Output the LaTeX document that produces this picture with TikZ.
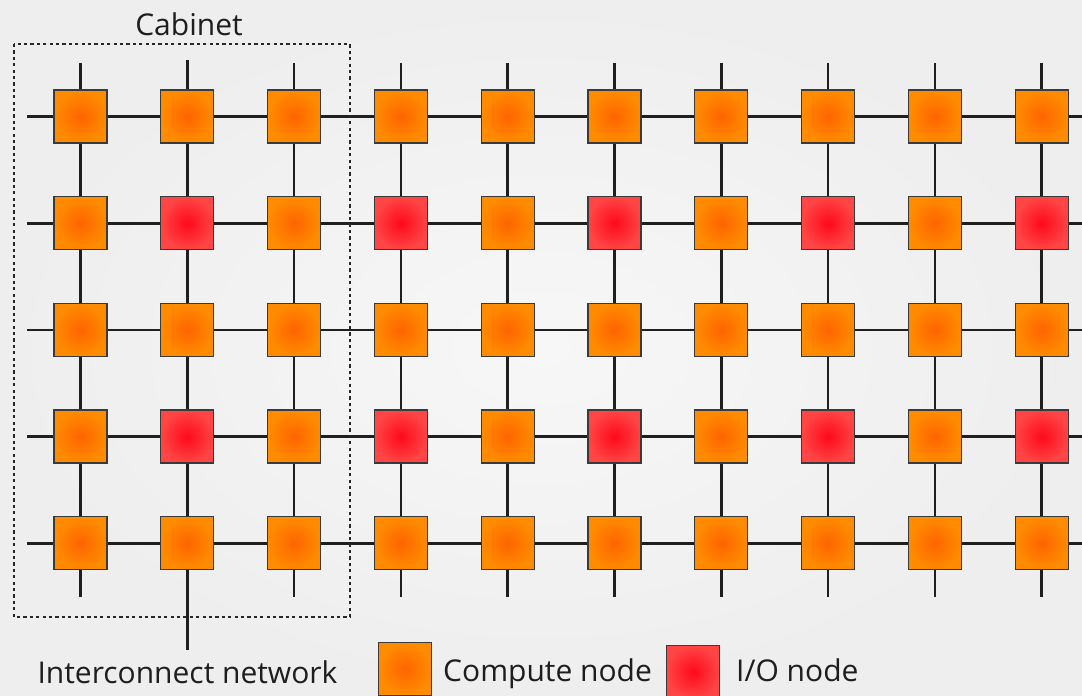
\documentclass[tikz,border=0pt]{standalone}
\usepackage{fontspec}
\setmainfont{Open Sans}
\definecolor{txt}{HTML}{1E1E1E}
\definecolor{orangeC}{HTML}{FF6400}
\definecolor{orangeO}{HTML}{FF8C00}
\definecolor{redC}{HTML}{FF0A1A}
\definecolor{redO}{HTML}{FF4545}
\definecolor{edgec}{HTML}{3A3A3A}
\definecolor{bgC}{HTML}{F7F7F7}
\definecolor{bgO}{HTML}{EEEEEE}
\begin{document}
\begin{tikzpicture}[x=1pt,y=-1pt,
  sq/.style={draw=edgec, line width=1.3pt, minimum size=53pt, inner sep=0pt, shading=radial},
  comp/.style={sq, inner color=orangeC, outer color=orangeO},
  io/.style={sq, inner color=redC, outer color=redO},
  wire/.style={line width=2.6pt, draw=black!88},
  lbl/.style={font=\fontsize{30}{36}\selectfont, text=txt, inner sep=0pt}]
\shade[inner color=bgC, outer color=bgO] (0,0) rectangle (1082,696);
\useasboundingbox (0,0) rectangle (1082,696);
% nodes
\foreach \r in {1,...,5}{
  \pgfmathsetmacro\yy{116.5+(\r-1)*106.7}
  \coordinate (L-\r) at (27,\yy);
  \coordinate (R-\r) at (1082,\yy);
  \foreach \c in {1,...,10}{
    \pgfmathsetmacro\xx{80.5+(\c-1)*106.8}
    \pgfmathsetmacro\yyy{116.5+(\r-1)*106.7}
    \pgfmathtruncatemacro\isio{(mod(\r,2)==0 && mod(\c,2)==0)?1:0}
    \ifnum\isio=1
      \node[io] (n-\r-\c) at (\xx,\yyy) {};
    \else
      \node[comp] (n-\r-\c) at (\xx,\yyy) {};
    \fi
  }
}
\foreach \c in {1,...,10}{
  \pgfmathsetmacro\xx{80.5+(\c-1)*106.8}
  \ifnum\c=2
    \coordinate (T-\c) at (\xx,60);
    \coordinate (B-\c) at (\xx,650);
  \else
    \coordinate (T-\c) at (\xx,63);
    \coordinate (B-\c) at (\xx,597);
  \fi
}
% horizontal wires
\foreach \r in {1,...,5}{
  \draw[wire] (L-\r) -- (n-\r-1);
  \foreach \c in {1,...,9}{
    \pgfmathtruncatemacro\cc{\c+1}
    \draw[wire] (n-\r-\c) -- (n-\r-\cc);
  }
  \draw[wire] (n-\r-10) -- (R-\r);
}
% vertical wires
\foreach \c in {1,...,10}{
  \draw[wire] (T-\c) -- (n-1-\c);
  \foreach \r in {1,...,4}{
    \pgfmathtruncatemacro\rr{\r+1}
    \draw[wire] (n-\r-\c) -- (n-\rr-\c);
  }
  \draw[wire] (n-5-\c) -- (B-\c);
}
% cabinet
\draw[dash pattern=on 3.2pt off 3.2pt, line width=1.9pt, draw=black!85] (14,44) rectangle (350,617);
\node[lbl, anchor=base] (cabinet) at (189,35) {Cabinet};
\node[lbl, anchor=base] (inet) at (187.5,683) {Interconnect network};
% legend
\node[comp] (lcomp) at (405,669) {};
\node[lbl, anchor=base west] (tcomp) at (443,681) {Compute node};
\node[io] (lio) at (693,672) {};
\node[lbl, anchor=base west] (tio) at (736,681) {I/O node};
\end{tikzpicture}
\end{document}
